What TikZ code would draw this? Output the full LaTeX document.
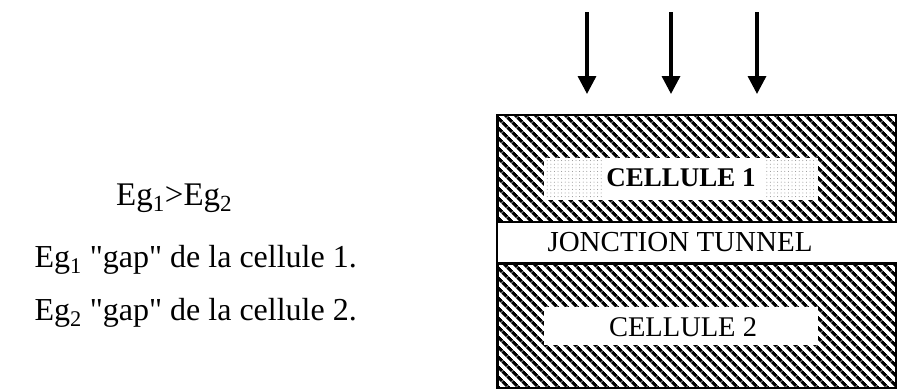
\documentclass[tikz,border=0pt]{standalone}
\usepackage{fontspec}
\setmainfont{Liberation Serif}
\usetikzlibrary{arrows.meta,patterns,patterns.meta}
\begin{document}
\begin{tikzpicture}[x=1pt,y=-1pt,
  hatch/.style={pattern={Lines[angle=-45,distance=7.4pt,line width=3.6pt]},pattern color=black},
  stipple/.style={pattern={Dots[distance=3.6pt,radius=0.5pt]},pattern color=black!45},
  frame/.style={line width=2.6pt},
  band/.style={fill=white,inner sep=0pt},
  lbl/.style={font=\fontsize{28.5}{30}\selectfont},
  side/.style={inner sep=0pt},
  ray/.style={line width=3.4pt,-{Triangle[length=18pt,width=18pt]}}]
\useasboundingbox (0,0) rectangle (897,391);
\fill[white] (0,0) rectangle (897,391);
% stack
\node (stack) [draw,frame,hatch,minimum width=399pt,minimum height=273pt,inner sep=0pt] at (697,251.5) {};
\node (tunnel) [band,minimum width=399pt,minimum height=41pt] at (697,242.5) {};
\draw[frame] (tunnel.north west) -- (tunnel.north east);
\draw[frame] (tunnel.south west) -- (tunnel.south east);
\node (tlabel) [lbl,font=\fontsize{29}{30}\selectfont] at (680,242.5) {JONCTION TUNNEL};
\node (c1) [band,minimum width=274pt,minimum height=42pt] at (681,179) {};
\fill[stipple] (546,160) rectangle (602,198);
\fill[stipple] (764,160) rectangle (817,198);
\node (c1label) [lbl,font=\fontsize{27}{28}\selectfont\bfseries,fill=white,inner sep=1pt] at (681,178) {CELLULE 1};
\node (c2) [band,minimum width=274pt,minimum height=38pt] at (681,326) {};
\node (c2label) [lbl] at (683,327) {CELLULE 2};
% arrows
\coordinate (a1s) at (587,12); \coordinate (a1e) at (587,94);
\coordinate (a2s) at (671,12); \coordinate (a2e) at (671,94);
\coordinate (a3s) at (757,12); \coordinate (a3e) at (757,94);
\draw[ray] (a1s) -- (a1e);
\draw[ray] (a2s) -- (a2e);
\draw[ray] (a3s) -- (a3e);
% left text
\node (rel) [side,font=\fontsize{33}{36}\selectfont,anchor=base west] at (116,205) {Eg\textsubscript{1}>Eg\textsubscript{2}};
\node (g1) [side,font=\fontsize{32}{36}\selectfont,anchor=base east] at (357,267) {Eg\textsubscript{1} \textquotedbl gap\textquotedbl{} de la cellule 1.};
\node (g2) [side,font=\fontsize{32}{36}\selectfont,anchor=base east] at (357,320) {Eg\textsubscript{2} \textquotedbl gap\textquotedbl{} de la cellule 2.};
\end{tikzpicture}
\end{document}
